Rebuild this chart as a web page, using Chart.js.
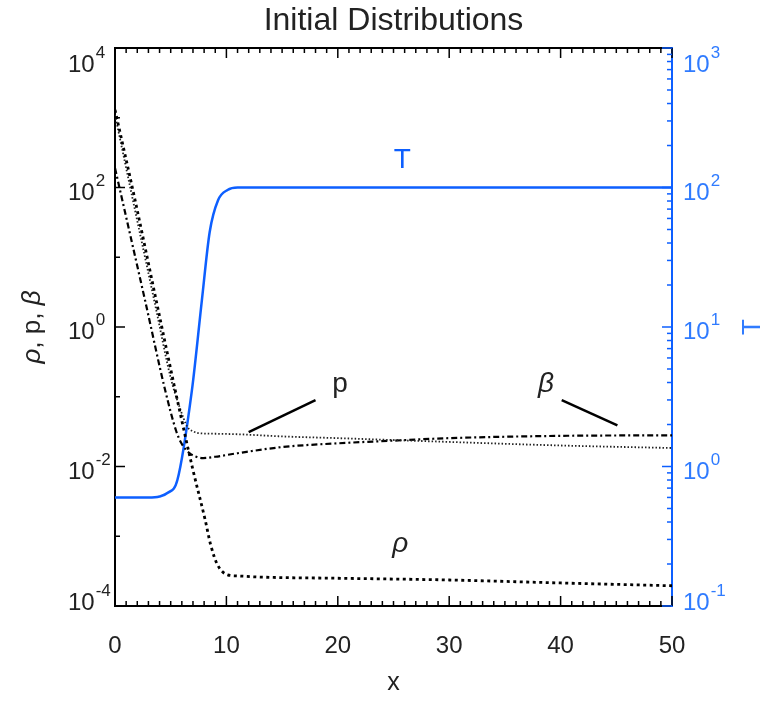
<!DOCTYPE html>
<html>
<head>
<meta charset="utf-8">
<script src="https://cdn.jsdelivr.net/npm/chart.js@4"></script>
<style>
  html, body { margin: 0; padding: 0; background: #fff; }
  #wrap { width: 761px; height: 701px; }
</style>
</head>
<body>
<div id="wrap"><canvas id="chart" width="761" height="701"></canvas></div>
<script>
// values
const rhoX = [0, 1.8, 3.7, 5.6, 7.0, 8.1, 8.6, 9.2, 10.1, 11, 13, 20, 30, 40, 50];
const rhoY = [1300, 66, 2.4, 0.089, 0.0089, 0.0017, 0.00074, 0.00039, 0.00028, 0.00027, 0.00026, 0.00025, 0.000236, 0.000214, 0.000195];

const pX = [0, 1.8, 3.7, 5.0, 5.8, 6.5, 7.0, 7.6, 9, 11, 15, 20, 30, 40, 50];
const pY = [1100, 47, 1.76, 0.186, 0.071, 0.037, 0.032, 0.030, 0.0295, 0.029, 0.027, 0.0255, 0.0225, 0.020, 0.0184];

const betaX = [0, 2.7, 4.5, 5.5, 6.0, 6.7, 7.3, 7.9, 9, 11, 15, 20, 25, 30, 40, 50];
const betaY = [190, 2.4, 0.125, 0.032, 0.021, 0.0155, 0.0138, 0.0132, 0.0138, 0.0155, 0.019, 0.0215, 0.0235, 0.0255, 0.0275, 0.028];

const tX = [0, 3, 4, 4.7, 5.6, 6.9, 7.8, 8.5, 9.25, 10.1, 11, 50];
const tY = [0.6, 0.6, 0.61, 0.645, 0.80, 3.5, 15.6, 48, 81, 96, 100, 100];

const xTicks = [0, 10, 20, 30, 40, 50];
const leftExp = [-4, -2, 0, 2, 4];
const rightExp = [-1, 0, 1, 2, 3];

const BLUE = '#0d5fff';
const FONT = '"Liberation Sans", Arial, sans-serif';

function pts(xs, ys) {
    return xs.map((x, i) => ({ x: x, y: ys[i] }));
}

function drawPower(ctx, exp, left, base, color) {
    ctx.fillStyle = color;
    ctx.textAlign = 'left';
    ctx.textBaseline = 'alphabetic';
    ctx.font = '24px ' + FONT;
    ctx.fillText('10', left, base);
    const w = ctx.measureText('10').width;
    ctx.font = '17px ' + FONT;
    ctx.fillText(String(exp), left + w + 1, base - 14);
}

function seg(ctx, x1, y1, x2, y2) {
    ctx.beginPath();
    ctx.moveTo(x1, y1);
    ctx.lineTo(x2, y2);
    ctx.stroke();
}

const decorations = {
    id: 'decorations',
    afterDraw(chart) {
        const ctx = chart.ctx;
        const ca = chart.chartArea;
        const sx = chart.scales.x, sy = chart.scales.y, sy2 = chart.scales.y2;
        ctx.save();

        // top frame
        ctx.strokeStyle = '#000';
        ctx.lineWidth = 2;
        seg(ctx, ca.left, ca.top, ca.right, ca.top);

        // x ticks top and bottom
        ctx.lineWidth = 1.5;
        for (let v = 0; v <= 50; v++) {
            const px = sx.getPixelForValue(v);
            const len = v % 10 === 0 ? 10 : 5;
            seg(ctx, px, ca.bottom, px, ca.bottom - len);
            seg(ctx, px, ca.top, px, ca.top + len);
        }
        // left ticks
        for (let e = -4; e <= 4; e++) {
            const py = sy.getPixelForValue(Math.pow(10, e));
            seg(ctx, ca.left, py, ca.left + (e % 2 === 0 ? 10 : 5), py);
        }
        // right ticks
        ctx.strokeStyle = BLUE;
        for (let e = -1; e <= 3; e++) {
            for (let m = 1; m <= 9; m++) {
                const v = m * Math.pow(10, e);
                if (v > 1000.0001) break;
                const py = sy2.getPixelForValue(v);
                seg(ctx, ca.right, py, ca.right - (m === 1 ? 10 : 5), py);
            }
        }

        // tick labels
        ctx.fillStyle = '#222';
        ctx.font = '24px ' + FONT;
        ctx.textAlign = 'center';
        ctx.textBaseline = 'alphabetic';
        xTicks.forEach(v => ctx.fillText(String(v), sx.getPixelForValue(v), 653));

        leftExp.forEach(e => {
            const py = sy.getPixelForValue(Math.pow(10, e));
            const base = Math.min(Math.max(py + 12, ca.top + 24), ca.bottom + 4);
            drawPower(ctx, e, 68, base, '#222');
        });
        rightExp.forEach(e => {
            const py = sy2.getPixelForValue(Math.pow(10, e));
            const base = Math.min(Math.max(py + 12, ca.top + 24), ca.bottom + 4);
            drawPower(ctx, e, 683, base, '#2f7bff');
        });

        // title and axis titles
        const cx = (ca.left + ca.right) / 2;
        const cy = (ca.top + ca.bottom) / 2;
        ctx.fillStyle = '#222';
        ctx.textAlign = 'center';
        ctx.font = '32px ' + FONT;
        ctx.fillText('Initial Distributions', cx, 30);
        ctx.font = '25px ' + FONT;
        ctx.fillText('x', cx, 690);

        // left title: ρ, p, β (rotated)
        ctx.save();
        ctx.translate(40, cy);
        ctx.rotate(-Math.PI / 2);
        const parts = [['\u03c1', 'italic'], [', p, ', 'normal'], ['\u03b2', 'italic']];
        let total = 0;
        parts.forEach(p => { ctx.font = p[1] + ' 26px ' + FONT; total += ctx.measureText(p[0]).width; });
        let pos = -total / 2;
        ctx.textAlign = 'left';
        parts.forEach(p => {
            ctx.font = p[1] + ' 26px ' + FONT;
            ctx.fillText(p[0], pos, 0);
            pos += ctx.measureText(p[0]).width;
        });
        ctx.restore();

        // right title T
        ctx.save();
        ctx.translate(760, cy);
        ctx.rotate(-Math.PI / 2);
        ctx.fillStyle = '#2f7bff';
        ctx.textAlign = 'center';
        ctx.font = '26px ' + FONT;
        ctx.fillText('T', 0, 0);
        ctx.restore();

        // curve labels
        ctx.textAlign = 'center';
        ctx.font = '28px ' + FONT;
        ctx.fillStyle = BLUE;
        ctx.fillText('T', sx.getPixelForValue(25.8), sy2.getPixelForValue(138));
        ctx.fillStyle = '#222';
        ctx.fillText('p', sx.getPixelForValue(20.2), sy.getPixelForValue(0.117));
        ctx.font = 'italic 28px ' + FONT;
        ctx.fillText('\u03b2', sx.getPixelForValue(38.7), sy.getPixelForValue(0.117));
        ctx.fillText('\u03c1', sx.getPixelForValue(25.6), sy.getPixelForValue(0.00059));

        // pointer lines
        ctx.strokeStyle = '#000';
        ctx.lineWidth = 2.5;
        seg(ctx, sx.getPixelForValue(12.0), sy.getPixelForValue(0.031),
                 sx.getPixelForValue(18.0), sy.getPixelForValue(0.0897));
        seg(ctx, sx.getPixelForValue(40.1), sy.getPixelForValue(0.0897),
                 sx.getPixelForValue(45.1), sy.getPixelForValue(0.039));

        ctx.restore();
    }
};

new Chart(document.getElementById('chart'), {
    type: 'line',
    data: {
        datasets: [{
            label: 'rho',
            data: pts(rhoX, rhoY),
            borderColor: '#000',
            borderWidth: 2.8,
            borderDash: [3, 3.5],
            yAxisID: 'y'
        }, {
            label: 'p',
            data: pts(pX, pY),
            borderColor: '#222',
            borderWidth: 1.8,
            borderDash: [1.5, 2],
            yAxisID: 'y'
        }, {
            label: 'beta',
            data: pts(betaX, betaY),
            borderColor: '#000',
            borderWidth: 2.2,
            borderDash: [6, 3, 2, 3],
            yAxisID: 'y'
        }, {
            label: 'T',
            data: pts(tX, tY),
            borderColor: BLUE,
            borderWidth: 2.5,
            yAxisID: 'y2'
        }]
    },
    options: {
        responsive: false,
        animation: false,
        devicePixelRatio: 1,
        layout: { padding: { top: 48, left: 0, right: 0, bottom: 0 } },
        elements: {
            point: { radius: 0 },
            line: { cubicInterpolationMode: 'monotone', fill: false }
        },
        plugins: {
            legend: { display: false },
            tooltip: { enabled: false }
        },
        scales: {
            x: {
                type: 'linear', min: 0, max: 50,
                grid: { display: false },
                ticks: { display: false },
                border: { display: true, color: '#000', width: 2 },
                afterFit: s => { s.height = 95; }
            },
            y: {
                type: 'logarithmic', position: 'left', min: 1e-4, max: 1e4,
                grid: { display: false },
                ticks: { display: false },
                border: { display: true, color: '#000', width: 2 },
                afterFit: s => { s.width = 115; }
            },
            y2: {
                type: 'logarithmic', position: 'right', min: 0.1, max: 1000,
                grid: { display: false },
                ticks: { display: false },
                border: { display: true, color: BLUE, width: 2 },
                afterFit: s => { s.width = 89; }
            }
        }
    },
    plugins: [decorations]
});
</script>
</body>
</html>
